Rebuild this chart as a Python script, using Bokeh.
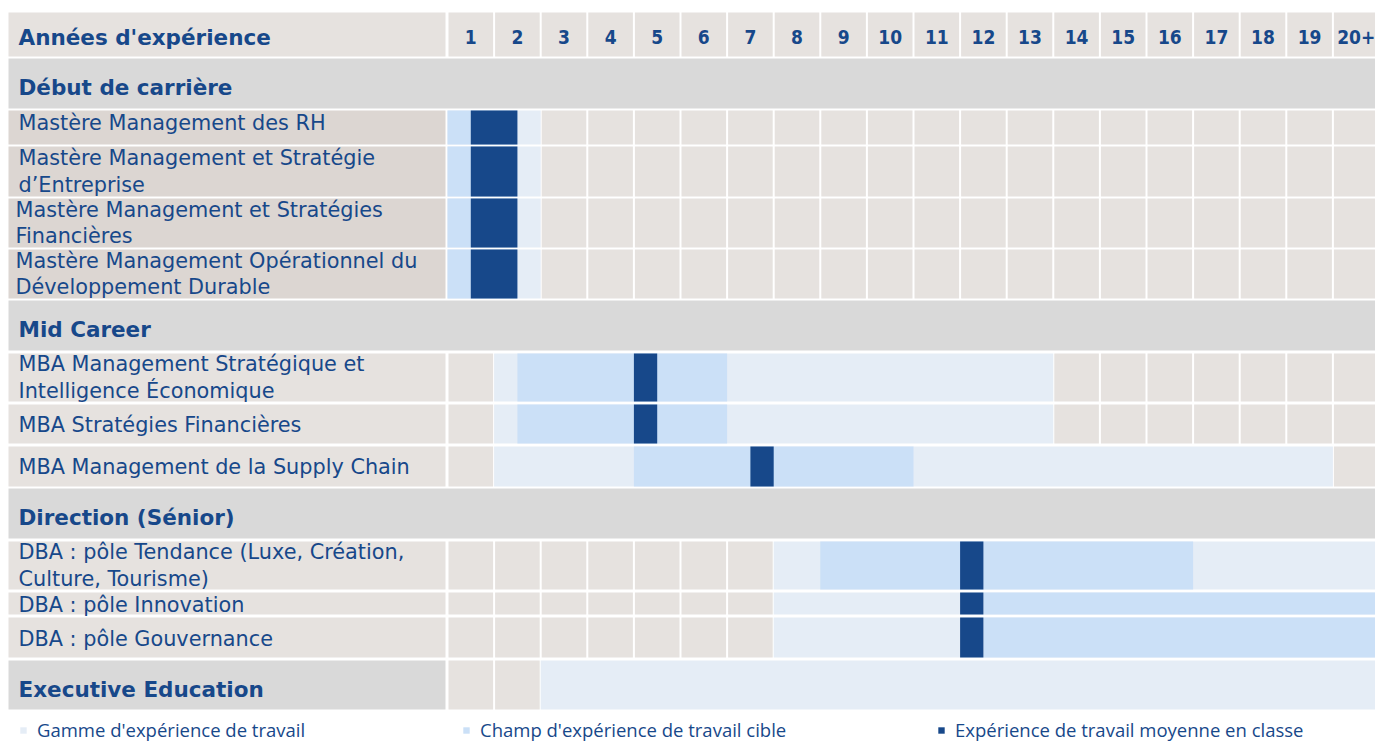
from bokeh.plotting import figure
from bokeh.models import Range1d, Legend, LegendItem, ColumnDataSource
from bokeh.core.properties import value
from bokeh.embed import file_html
from bokeh.resources import INLINE

# ---------------- data ----------------
years = ["1", "2", "3", "4", "5", "6", "7", "8", "9", "10",
         "11", "12", "13", "14", "15", "16", "17", "18", "19", "20+"]
header_label = "Années d'expérience"
sections = ["Début de carrière", "Mid Career", "Direction (Sénior)"]
programs = [
    "Mastère Management des RH",
    "Mastère  Management et Stratégie\nd’Entreprise",
    "Mastère  Management et Stratégies\nFinancières",
    "Mastère Management Opérationnel du\nDéveloppement Durable",
    "MBA Management Stratégique et\nIntelligence Économique",
    "MBA Stratégies Financières",
    "MBA Management de la Supply Chain",
    "DBA : pôle Tendance (Luxe, Création,\nCulture, Tourisme)",
    "DBA :  pôle Innovation",
    "DBA : pôle Gouvernance",
]
program_section = [0, 0, 0, 0, 1, 1, 1, 2, 2, 2]
# years of experience (column units: column k spans [k-1, k])
gamme_start = [0, 0, 0, 0, 1, 1, 1, 7, 7, 7]
gamme_end = [2, 2, 2, 2, 13, 13, 19, 20, 20, 20]
cible_start = [0, 0, 0, 0, 1.5, 1.5, 4, 8, 11.5, 11.5]
cible_end = [1.5, 1.5, 1.5, 1.5, 6, 6, 10, 16, 20, 20]
moyenne_start = [0.5, 0.5, 0.5, 0.5, 4, 4, 6.5, 11, 11, 11]
moyenne_end = [1.5, 1.5, 1.5, 1.5, 4.5, 4.5, 7, 11.5, 11.5, 11.5]
exec_label = "Executive Education"
exec_gamme_start = 2
exec_gamme_end = 20
legend_labels = ["Gamme d'expérience de travail",
                 "Champ d'expérience de travail cible",
                 "Expérience de travail moyenne en classe"]

# ---------------- style / layout ----------------
C_DARK = "#17488a"
C_CIBLE = "#cbe0f7"
C_GAMME = "#e5edf6"
C_CELL = "#e6e2df"
C_LABEL1 = "#dcd6d2"
C_SECTION = "#d9d9d9"
C_TEXT = "#17488a"

W, H = 1375, 743
COL_PX = 46.6
GRID_LEFT_PX = 447.0          # from frame left edge to column 1
TABLE_LEFT_PX = 8.0
X0 = -GRID_LEFT_PX / COL_PX
X1 = X0 + W / COL_PX
XT = X0 + TABLE_LEFT_PX / COL_PX
G = 1.0 / COL_PX              # half white separator
LABEL_END = -2.0 / COL_PX
TXT_X = X0 + 18.0 / COL_PX

# row order: header, section, programs..., exec
row_kinds = ["header", "section", "p", "p", "p", "p", "section", "p", "p", "p",
             "section", "p", "p", "p", "exec"]
row_heights = [44, 50, 34, 50, 49, 49, 50, 48, 39, 40, 50, 48, 22, 40, 49]
row_gaps = [2, 2, 2, 2, 2, 2, 3, 3, 3, 2, 3, 3, 3, 3]
label_dy = [-5, 0, 0, 0, 0, 1, 0, 0, 1, 1]      # vertical nudge of program labels (px)
label_dx = [0, 0, -3, -3, 0, 0, 0, 0, 0, 0]     # horizontal nudge of program labels (px)
table_top = 12

tops, bots = [], []
y = table_top
for i, h in enumerate(row_heights):
    if i > 0:
        y += row_gaps[i - 1]
    tops.append(y)
    bots.append(y + h)
    y += h

p = figure(width=W, height=H, x_range=Range1d(X0, X1), y_range=Range1d(H, 0),
           output_backend="svg", toolbar_location=None, min_border=0)
p.axis.visible = False
p.grid.visible = False
p.outline_line_color = None
p.background_fill_color = "white"
p.border_fill_color = "white"

bg = dict(left=[], right=[], top=[], bottom=[], color=[])
gam = dict(left=[], right=[], top=[], bottom=[])
cib = dict(left=[], right=[], top=[], bottom=[])
dk = dict(left=[], right=[], top=[], bottom=[])
lab = dict(x=[], y=[], text=[])
bold = dict(x=[], y=[], text=[])

def add_bg(l, r, t, b, c):
    bg["left"].append(l); bg["right"].append(r)
    bg["top"].append(t); bg["bottom"].append(b); bg["color"].append(c)

pi = 0
si = 0
for ri, kind in enumerate(row_kinds):
    t, b = tops[ri], bots[ri]
    mid = (t + b) / 2
    if kind == "header":
        add_bg(XT, LABEL_END, t, b, C_CELL)
        for k in range(1, len(years) + 1):
            add_bg(k - 1 + G, k - G, t, b, C_CELL)
        bold["x"].append(TXT_X); bold["y"].append(mid + 3); bold["text"].append(header_label)
    elif kind == "section":
        add_bg(XT, X1, t, b, C_SECTION)
        bold["x"].append(TXT_X); bold["y"].append(mid + 4); bold["text"].append(sections[si])
        si += 1
    elif kind == "p":
        add_bg(XT, LABEL_END, t, b, C_LABEL1 if program_section[pi] == 0 else C_CELL)
        gs, ge = gamme_start[pi], gamme_end[pi]
        for k in range(1, len(years) + 1):
            if k <= gs or k - 1 >= ge:
                add_bg(k - 1 + G, k - G, t, b, C_CELL)
        for d, s, e in ((gam, gs, ge), (cib, cible_start[pi], cible_end[pi]),
                        (dk, moyenne_start[pi], moyenne_end[pi])):
            d["left"].append(s); d["right"].append(e); d["top"].append(t); d["bottom"].append(b)
        lab["x"].append(TXT_X + label_dx[pi] / COL_PX)
        lab["y"].append(mid + label_dy[pi])
        lab["text"].append(programs[pi])
        pi += 1
    else:  # exec
        add_bg(XT, LABEL_END, t, b, C_SECTION)
        for k in range(1, len(years) + 1):
            if k <= exec_gamme_start or k - 1 >= exec_gamme_end:
                add_bg(k - 1 + G, k - G, t, b, C_CELL)
        gam["left"].append(exec_gamme_start); gam["right"].append(exec_gamme_end)
        gam["top"].append(t); gam["bottom"].append(b)
        bold["x"].append(TXT_X); bold["y"].append(mid + 4); bold["text"].append(exec_label)

p.quad(left="left", right="right", top="top", bottom="bottom", fill_color="color",
       line_color=None, source=ColumnDataSource(bg))
r_gam = p.quad(left="left", right="right", top="top", bottom="bottom", fill_color=C_GAMME,
               line_color=None, source=ColumnDataSource(gam))
r_cib = p.quad(left="left", right="right", top="top", bottom="bottom", fill_color=C_CIBLE,
               line_color=None, source=ColumnDataSource(cib))
r_dk = p.quad(left="left", right="right", top="top", bottom="bottom", fill_color=C_DARK,
              line_color=None, source=ColumnDataSource(dk))

p.text(x="x", y="y", text="text", source=ColumnDataSource(lab),
       text_font=value("DejaVu Sans"), text_font_size="20.8px", text_color=C_TEXT,
       text_baseline="middle", text_align="left", text_line_height=1.09)
p.text(x="x", y="y", text="text", source=ColumnDataSource(bold),
       text_font=value("DejaVu Sans"), text_font_size="21.5px", text_font_style="bold",
       text_color=C_TEXT, text_baseline="middle", text_align="left")

num = dict(x=[k - 0.5 for k in range(1, len(years) + 1)],
           y=[(tops[0] + bots[0]) / 2 + 2] * len(years), text=years)
p.text(x="x", y="y", text="text", source=ColumnDataSource(num),
       text_font=value("'Liberation Sans Narrow', 'DejaVu Sans Condensed', 'Liberation Sans', sans-serif"),
       text_font_size="19px", text_font_style="bold", text_color=C_TEXT,
       text_baseline="middle", text_align="center")

# legends (three separate entries placed like the reference)
legend_x = [19, 462, 937]
for lx, lbl, rend in zip(legend_x, legend_labels, [r_gam, r_cib, r_dk]):
    lg = Legend(items=[LegendItem(label=lbl, renderers=[rend])], location=(lx, 1),
                orientation="horizontal", glyph_width=8, glyph_height=8,
                label_height=8, label_standoff=10, padding=0, margin=0,
                border_line_color=None, background_fill_alpha=0,
                label_text_font="Open Sans", label_text_font_size="18.5px",
                label_text_color=C_TEXT, label_text_baseline="middle")
    p.add_layout(lg)

open("out.html", "w").write(file_html(p, INLINE))
